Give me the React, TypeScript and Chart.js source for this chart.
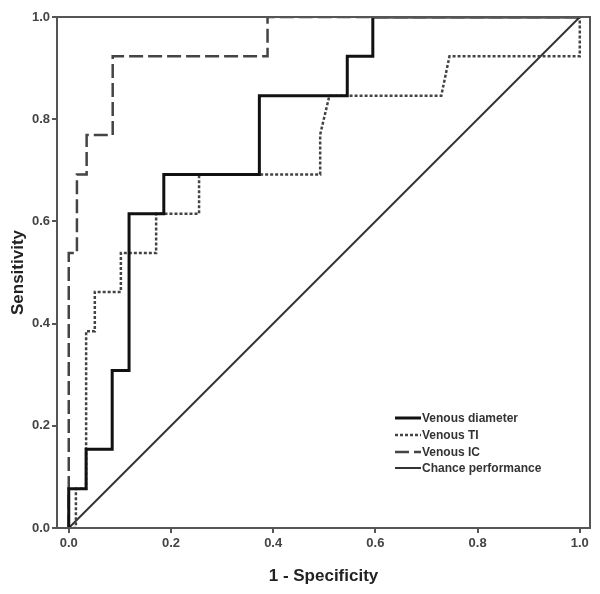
import React, { useEffect, useRef } from 'react';
import { Chart, registerables } from 'chart.js';

Chart.register(...registerables);

// Venous diameter (solid thick)
const diameterX = [0, 0, 0.034, 0.034, 0.085, 0.085, 0.118, 0.118, 0.186, 0.186, 0.373, 0.373, 0.545, 0.545, 0.595, 0.595, 1];
const diameterY = [0, 0.077, 0.077, 0.154, 0.154, 0.308, 0.308, 0.615, 0.615, 0.692, 0.692, 0.846, 0.846, 0.923, 0.923, 1, 1];
// Venous TI (dotted)
const tiX = [0, 0.014, 0.014, 0.034, 0.034, 0.051, 0.051, 0.102, 0.102, 0.171, 0.171, 0.255, 0.255, 0.492, 0.492, 0.51, 0.729, 0.745, 1, 1];
const tiY = [0, 0, 0.077, 0.077, 0.385, 0.385, 0.462, 0.462, 0.538, 0.538, 0.615, 0.615, 0.692, 0.692, 0.77, 0.846, 0.846, 0.923, 0.923, 1];
// Venous IC (dashed)
const icX = [0, 0, 0.016, 0.016, 0.035, 0.035, 0.086, 0.086, 0.389, 0.389, 1];
const icY = [0, 0.538, 0.538, 0.692, 0.692, 0.769, 0.769, 0.923, 0.923, 1, 1];
// Chance performance
const chanceX = [0, 1];
const chanceY = [0, 1];

const tickValues = [0, 0.2, 0.4, 0.6, 0.8, 1.0];
const seriesLabels = ['Venous diameter', 'Venous TI', 'Venous IC', 'Chance performance'];
const xTitle = '1 - Specificity';
const yTitle = 'Sensitivity';

const FONT = "'Liberation Sans', Arial, sans-serif";

const zip = (xs: number[], ys: number[]) => xs.map((x, i) => ({ x, y: ys[i] }));

const framePlugin = {
  id: 'frameAndLegend',
  afterDraw(chart: any) {
    const { ctx, chartArea } = chart;
    ctx.save();
    ctx.strokeStyle = '#555';
    ctx.lineWidth = 2;
    ctx.strokeRect(chartArea.left, chartArea.top, chartArea.right - chartArea.left, chartArea.bottom - chartArea.top);

    // legend
    const x0 = 395;
    const x1 = 421;
    const rowY = [418, 435, 452, 468];
    ctx.font = `bold 12px ${FONT}`;
    ctx.textBaseline = 'middle';
    ctx.textAlign = 'left';
    chart.data.datasets.forEach((ds: any, i: number) => {
      const y = rowY[i];
      ctx.beginPath();
      ctx.strokeStyle = ds.borderColor;
      ctx.lineWidth = ds.borderWidth;
      ctx.setLineDash(ds.borderDash || []);
      ctx.moveTo(x0, y);
      ctx.lineTo(x1, y);
      ctx.stroke();
      ctx.setLineDash([]);
      ctx.fillStyle = '#333';
      ctx.fillText(ds.label, x1 + 1, y + 1);
    });
    ctx.restore();
  },
};

export default function App() {
  const ref = useRef<HTMLCanvasElement>(null);

  useEffect(() => {
    document.body.style.margin = '0';
    const canvas = ref.current;
    if (!canvas) return;
    const chart = new Chart(canvas, {
      type: 'scatter',
      data: {
        datasets: [
          {
            label: seriesLabels[0],
            data: zip(diameterX, diameterY),
            showLine: true,
            borderColor: '#111',
            borderWidth: 3,
            pointRadius: 0,
            fill: false,
          },
          {
            label: seriesLabels[1],
            data: zip(tiX, tiY),
            showLine: true,
            borderColor: '#444',
            borderWidth: 2.5,
            borderDash: [3, 2],
            pointRadius: 0,
            fill: false,
          },
          {
            label: seriesLabels[2],
            data: zip(icX, icY),
            showLine: true,
            borderColor: '#444',
            borderWidth: 2.5,
            borderDash: [14, 5],
            pointRadius: 0,
            fill: false,
          },
          {
            label: seriesLabels[3],
            data: zip(chanceX, chanceY),
            showLine: true,
            borderColor: '#333',
            borderWidth: 2,
            pointRadius: 0,
            fill: false,
          },
        ],
      } as any,
      options: {
        animation: false,
        responsive: false,
        devicePixelRatio: 1,
        layout: { padding: { top: 17, right: 10, left: 0, bottom: 0 } },
        plugins: {
          legend: { display: false },
          tooltip: { enabled: false },
        },
        scales: {
          x: {
            type: 'linear',
            min: -0.023,
            max: 1.02,
            afterBuildTicks: (s: any) => {
              s.ticks = tickValues.map((v) => ({ value: v }));
            },
            afterFit: (s: any) => {
              s.height = 66;
            },
            ticks: {
              callback: (v: any) => Number(v).toFixed(1),
              font: { family: FONT, size: 13, weight: 'bold' },
              color: '#444',
              padding: 3,
              maxRotation: 0,
            },
            grid: { drawOnChartArea: false, drawTicks: true, tickLength: 5, color: '#555', lineWidth: 2 },
            border: { display: false },
            title: {
              display: true,
              text: xTitle,
              font: { family: FONT, size: 17, weight: 'bold' },
              color: '#222',
              padding: { top: 0, bottom: 7 },
            },
          },
          y: {
            type: 'linear',
            min: 0,
            max: 1,
            afterBuildTicks: (s: any) => {
              s.ticks = tickValues.map((v) => ({ value: v }));
            },
            afterFit: (s: any) => {
              s.width = 57;
            },
            ticks: {
              callback: (v: any) => Number(v).toFixed(1),
              font: { family: FONT, size: 13, weight: 'bold' },
              color: '#444',
              padding: 2,
            },
            grid: { drawOnChartArea: false, drawTicks: true, tickLength: 5, color: '#555', lineWidth: 2 },
            border: { display: false },
            title: {
              display: true,
              text: yTitle,
              font: { family: FONT, size: 17, weight: 'bold' },
              color: '#222',
              padding: { top: 8, bottom: 0 },
            },
          },
        },
      } as any,
      plugins: [framePlugin],
    });
    return () => chart.destroy();
  }, []);

  return (
    <div style={{ position: 'absolute', left: 0, top: 0, width: 600, height: 594, background: '#fff' }}>
      <canvas ref={ref} width={600} height={594} style={{ width: 600, height: 594, display: 'block' }} />
    </div>
  );
}
